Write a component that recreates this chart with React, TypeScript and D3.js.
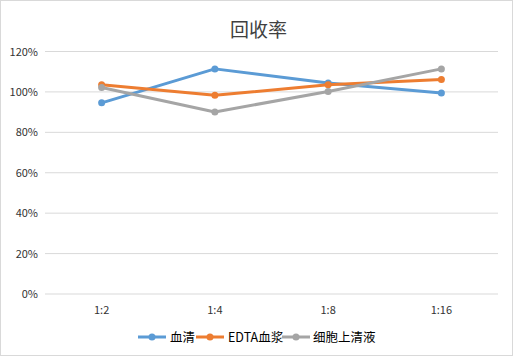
import React from "react";
import * as d3 from "d3";

const categories = ["1:2", "1:4", "1:8", "1:16"];
const seriesNames = ["血清", "EDTA血浆", "细胞上清液"];
const serum = [0.946, 1.114, 1.044, 0.995];
const edta = [1.035, 0.983, 1.035, 1.062];
const supernatant = [1.022, 0.901, 1.002, 1.114];
const yTicks = [0, 0.2, 0.4, 0.6, 0.8, 1.0, 1.2];
const colors = ["#5b9bd5", "#ed7d31", "#a5a5a5"];

const W = 513, H = 358;
const FONT = "'Microsoft YaHei', 'Noto Sans CJK SC', 'Liberation Sans', sans-serif";

export default function App() {
  const x = d3.scaleBand<string>().domain(categories).range([45, 498]);
  const y = d3.scaleLinear().domain([0, 1.2]).range([294, 51.5]);
  const data = [serum, edta, supernatant];
  const line = d3
    .line<number>()
    .x((_, i) => (x(categories[i]) as number) + x.bandwidth() / 2)
    .y((d) => y(d));
  const legendItems = [
    { x: 138, tx: 170 },
    { x: 196, tx: 228 },
    { x: 282, tx: 313 },
  ];
  return (
    <svg width={W} height={H} style={{ position: "absolute", left: 0, top: 0, fontFamily: FONT }}>
      <rect x={0.5} y={0.5} width={W - 1} height={H - 3} fill="#fff" stroke="#d9d9d9" />
      <text x={W / 2 + 2} y={37} textAnchor="middle" fontSize={19} fill="#404040">回收率</text>
      {yTicks.map((t) => (
        <g key={t}>
          <line x1={45} x2={498} y1={y(t)} y2={y(t)} stroke="#d9d9d9" strokeWidth={1} />
          <text x={38} y={y(t) + 4} textAnchor="end" fontSize={11} fill="#333">
            {Math.round(t * 100) + "%"}
          </text>
        </g>
      ))}
      {categories.map((c) => (
        <text key={c} x={(x(c) as number) + x.bandwidth() / 2} y={314} textAnchor="middle" fontSize={11} fill="#333">
          {c}
        </text>
      ))}
      {data.map((s, si) => (
        <g key={si}>
          <path d={line(s) || ""} fill="none" stroke={colors[si]} strokeWidth={3} strokeLinejoin="round" strokeLinecap="round" />
          {s.map((v, i) => (
            <circle key={i} cx={(x(categories[i]) as number) + x.bandwidth() / 2} cy={y(v)} r={3.5} fill={colors[si]} />
          ))}
        </g>
      ))}
      {seriesNames.map((n, i) => (
        <g key={n}>
          <line x1={legendItems[i].x} x2={legendItems[i].x + 28} y1={337} y2={337} stroke={colors[i]} strokeWidth={3} />
          <circle cx={legendItems[i].x + 14} cy={337} r={3.5} fill={colors[i]} />
          <text x={legendItems[i].tx} y={341.5} fontSize={12.5} fill="#000">{n}</text>
        </g>
      ))}
    </svg>
  );
}
